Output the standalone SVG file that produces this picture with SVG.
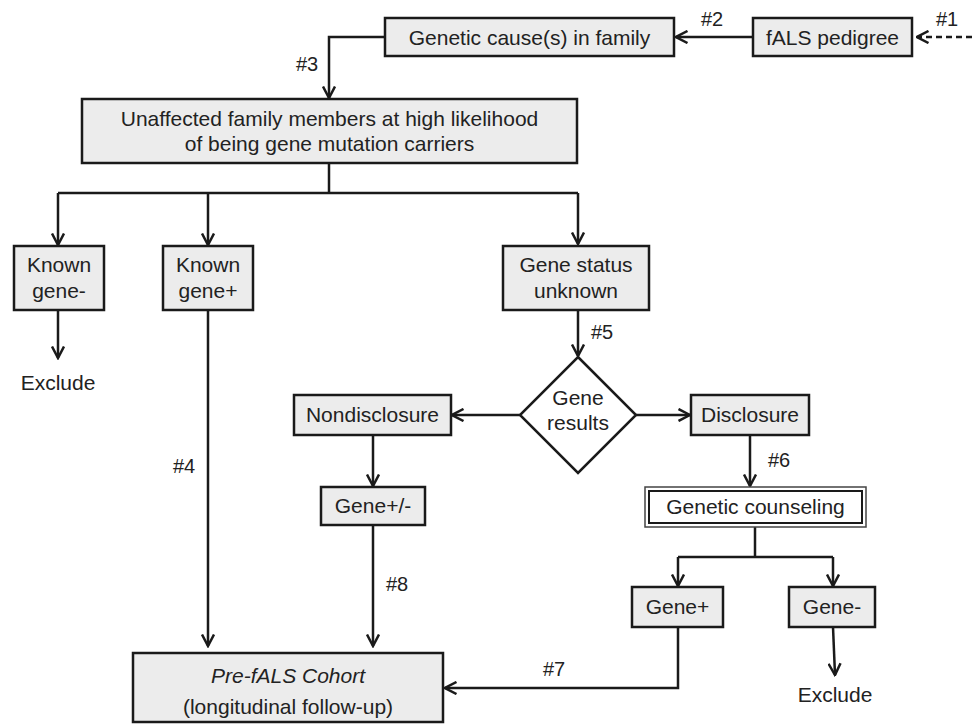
<svg xmlns="http://www.w3.org/2000/svg" width="972" height="724" viewBox="0 0 972 724">
<defs>
<style>
.box{fill:#ececec;stroke:#1a1a1a;stroke-width:2.5}
.t{font-family:"Liberation Sans",Arial,sans-serif;font-size:21px;fill:#222;text-anchor:middle}
.lbl{font-family:"Liberation Sans",Arial,sans-serif;font-size:20px;fill:#222}
.c{fill:none;stroke:#1a1a1a;stroke-width:2.5}
.a{marker-end:url(#arr)}
</style>
<marker id="arr" viewBox="0 0 14 14" refX="12.5" refY="7" markerWidth="14" markerHeight="14" markerUnits="userSpaceOnUse" orient="auto">
<path d="M1,1 L12.5,7 L1,13" fill="none" stroke="#1a1a1a" stroke-width="2.5"/>
</marker>
</defs>
<rect width="972" height="724" fill="#fff"/>

<g id="connectors">
<path class="c a" d="M972,37 L917,37" stroke-dasharray="6,4"/>
<path class="c a" d="M753,37 L676,37"/>
<path class="c a" d="M385,37 L329,37 L329,98"/>
<path class="c" d="M329,163 L329,193"/>
<path class="c" d="M58,193 L578,193"/>
<path class="c a" d="M58,193 L58,245"/>
<path class="c a" d="M208,193 L208,245"/>
<path class="c a" d="M578,193 L578,244"/>
<path class="c a" d="M58,310 L58,358"/>
<path class="c a" d="M208,310 L208,646"/>
<path class="c a" d="M578,310 L578,356"/>
<path class="c a" d="M520,415 L452,415"/>
<path class="c a" d="M636,415 L690,415"/>
<path class="c a" d="M373,435 L373,486"/>
<path class="c a" d="M373,525 L373,646"/>
<path class="c a" d="M750,435 L750,486"/>
<path class="c" d="M755,527 L755,557"/>
<path class="c" d="M678,557 L833,557"/>
<path class="c a" d="M678,557 L678,586"/>
<path class="c a" d="M833,557 L833,586"/>
<path class="c a" d="M833,627 L835,675"/>
<path class="c a" d="M678,627 L678,688 L445,688"/>
</g>

<g id="labels">
<text class="lbl" x="936" y="26">#1</text>
<text class="lbl" x="701" y="26">#2</text>
<text class="lbl" x="296" y="71">#3</text>
<text class="lbl" x="173" y="473">#4</text>
<text class="lbl" x="591" y="339">#5</text>
<text class="lbl" x="768" y="467">#6</text>
<text class="lbl" x="543" y="676">#7</text>
<text class="lbl" x="386" y="591">#8</text>
</g>

<g id="fals-pedigree">
<rect class="box" x="753" y="18" width="159" height="38"/>
<text class="t" x="832.5" y="44.5">fALS pedigree</text>
</g>

<g id="genetic-cause">
<rect class="box" x="385" y="18" width="289" height="38"/>
<text class="t" x="529.5" y="44.5">Genetic cause(s) in family</text>
</g>

<g id="unaffected">
<rect class="box" x="82" y="99" width="495" height="64"/>
<text class="t" x="329.5" y="126">Unaffected family members at high likelihood</text>
<text class="t" x="329.5" y="151">of being gene mutation carriers</text>
</g>

<g id="known-gene-neg">
<rect class="box" x="14" y="246" width="90" height="64"/>
<text class="t" x="59" y="272">Known</text>
<text class="t" x="59" y="298">gene-</text>
</g>

<g id="exclude-1">
<text class="t" x="58" y="390">Exclude</text>
</g>

<g id="known-gene-pos">
<rect class="box" x="163" y="246" width="90" height="64"/>
<text class="t" x="208" y="272">Known</text>
<text class="t" x="208" y="298">gene+</text>
</g>

<g id="gene-status-unknown">
<rect class="box" x="503" y="246" width="146" height="64"/>
<text class="t" x="576" y="272">Gene status</text>
<text class="t" x="576" y="298">unknown</text>
</g>

<g id="gene-results">
<polygon points="578,357 636,415 578,473 520,415" fill="#fff" stroke="#1a1a1a" stroke-width="2.5"/>
<text class="t" x="578" y="405">Gene</text>
<text class="t" x="578" y="430">results</text>
</g>

<g id="nondisclosure">
<rect class="box" x="294" y="395" width="157" height="40"/>
<text class="t" x="372.5" y="422">Nondisclosure</text>
</g>

<g id="disclosure">
<rect class="box" x="691" y="395" width="118" height="40"/>
<text class="t" x="750" y="422">Disclosure</text>
</g>

<g id="gene-pos-neg">
<rect class="box" x="321" y="487" width="104" height="38"/>
<text class="t" x="373" y="513">Gene+/-</text>
</g>

<g id="genetic-counseling">
<rect x="645" y="487" width="221" height="40" fill="#fff" stroke="#444" stroke-width="1.5"/>
<rect x="649" y="491" width="213" height="32" fill="#fff" stroke="#1a1a1a" stroke-width="2"/>
<text class="t" x="755.5" y="514">Genetic counseling</text>
</g>

<g id="gene-pos">
<rect class="box" x="632" y="587" width="91" height="40"/>
<text class="t" x="677.5" y="614">Gene+</text>
</g>

<g id="gene-neg">
<rect class="box" x="789" y="587" width="86" height="40"/>
<text class="t" x="832" y="614">Gene-</text>
</g>

<g id="exclude-2">
<text class="t" x="835" y="702">Exclude</text>
</g>

<g id="cohort">
<rect class="box" x="133" y="653" width="310" height="69"/>
<text class="t" x="288" y="683" font-style="italic">Pre-fALS Cohort</text>
<text class="t" x="288" y="714">(longitudinal follow-up)</text>
</g>
</svg>
